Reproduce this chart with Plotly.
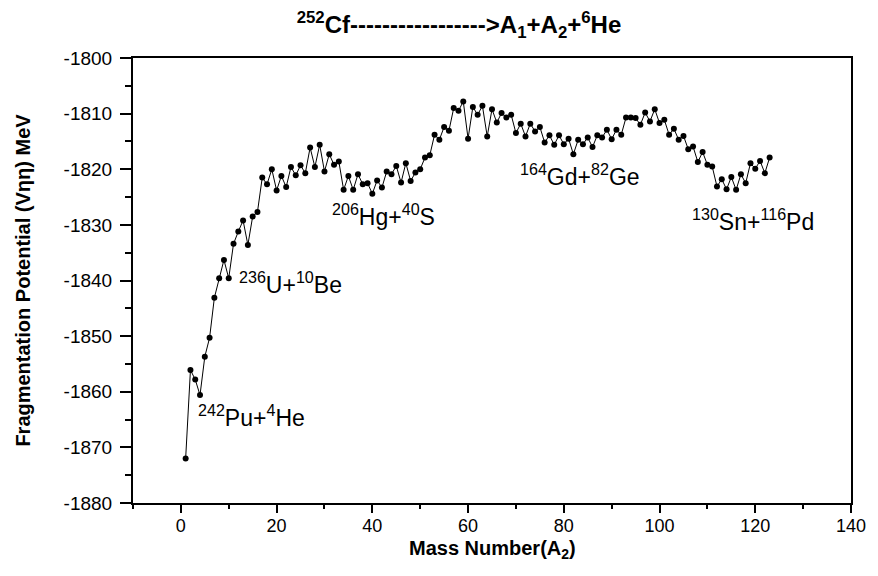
import plotly.graph_objects as go

# Mass number of the lighter fragment A2
mass_number = list(range(1, 124))

# Fragmentation potential (MeV)
potential = [
    -1872.0, -1856.1, -1857.8, -1860.6, -1853.7, -1850.3, -1843.1, -1839.6, -1836.3, -1839.6,
    -1833.4, -1831.2, -1829.2, -1833.6, -1828.5, -1827.7, -1821.5, -1822.7, -1820.0, -1823.8,
    -1821.2, -1823.2, -1819.6, -1821.1, -1819.3, -1820.7, -1816.1, -1819.6, -1815.6, -1820.4,
    -1817.3, -1819.2, -1818.6, -1823.7, -1821.2, -1823.7, -1820.9, -1822.7, -1822.5, -1824.4,
    -1822.0, -1823.3, -1820.4, -1820.9, -1819.4, -1822.4, -1818.9, -1822.1, -1820.6, -1820.0,
    -1817.9, -1817.5, -1813.8, -1814.7, -1812.4, -1813.1, -1809.0, -1809.5, -1807.8, -1814.5,
    -1808.8, -1810.2, -1808.6, -1814.1, -1809.2, -1811.6, -1809.9, -1810.7, -1810.2, -1813.5,
    -1811.8, -1814.1, -1811.8, -1813.2, -1812.4, -1815.2, -1813.9, -1815.6, -1813.9, -1815.5,
    -1814.5, -1817.3, -1814.7, -1815.5, -1814.3, -1816.0, -1813.9, -1814.3, -1812.9, -1814.6,
    -1812.9, -1813.8, -1810.7, -1810.7, -1810.8, -1812.0, -1809.8, -1811.4, -1809.2, -1811.7,
    -1811.1, -1813.8, -1812.7, -1814.7, -1814.0, -1816.4, -1815.9, -1818.7, -1816.9, -1819.2,
    -1819.5, -1823.1, -1821.8, -1823.6, -1821.4, -1823.7, -1820.9, -1822.5, -1818.9, -1819.9,
    -1818.5, -1820.7, -1817.9,
]

# Axis tick values and labels (hyphen minus as in the reference)
y_tick_values = [-1880, -1870, -1860, -1850, -1840, -1830, -1820, -1810, -1800]
y_tick_labels = ["-1880", "-1870", "-1860", "-1850", "-1840", "-1830", "-1820", "-1810", "-1800"]
x_tick_values = [0, 20, 40, 60, 80, 100, 120, 140]
x_tick_labels = ["0", "20", "40", "60", "80", "100", "120", "140"]

# Labelled fragmentation channels
channel_labels = [
    "<sup>242</sup>Pu+<sup>4</sup>He",
    "<sup>236</sup>U+<sup>10</sup>Be",
    "<sup>206</sup>Hg+<sup>40</sup>S",
    "<sup>164</sup>Gd+<sup>82</sup>Ge",
    "<sup>130</sup>Sn+<sup>116</sup>Pd",
]
label_x = [14.8, 23.0, 42.4, 83.4, 119.6]
label_y = [-1864.4, -1840.4, -1828.2, -1821.0, -1829.1]

FONT = "Liberation Sans, Arial, Helvetica, sans-serif"

fig = go.Figure()
fig.add_trace(go.Scatter(
    x=mass_number, y=potential, mode="lines+markers",
    line=dict(color="black", width=1),
    marker=dict(color="black", size=6),
    showlegend=False,
))

for t, x, y in zip(channel_labels, label_x, label_y):
    fig.add_annotation(x=x, y=y, text=t, showarrow=False, xanchor="center", yanchor="middle",
                       font=dict(family=FONT, size=23, color="black"))

# x-axis title placed as paper annotation to match reference spacing
fig.add_annotation(x=0.5, y=-0.104, xref="paper", yref="paper",
                   text="<b>Mass Number(A<sub>2</sub>)</b>", showarrow=False,
                   xanchor="center", yanchor="middle", borderpad=0,
                   font=dict(family=FONT, size=20, color="black"))

fig.update_layout(
    width=878, height=576,
    margin=dict(l=133, r=23, t=58, b=73),
    paper_bgcolor="white", plot_bgcolor="white",
    font=dict(family=FONT, color="black"),
    title=dict(
        text="<b><sup>252</sup>Cf----------------->A<sub>1</sub>+A<sub>2</sub>+<sup>6</sup>He</b>",
        x=0.454, xanchor="center", xref="paper", y=0.958, yanchor="middle",
        font=dict(family=FONT, size=24, color="black"),
    ),
)

fig.update_xaxes(
    range=[-10, 140], tickmode="array", tickvals=x_tick_values, ticktext=x_tick_labels,
    ticks="outside", ticklen=8, tickwidth=1.5, tickcolor="black",
    minor=dict(tickmode="linear", tick0=0, dtick=10, ticks="outside", ticklen=4,
               tickwidth=1.5, tickcolor="black"),
    showline=True, linewidth=2, linecolor="black", mirror=True,
    showgrid=False, zeroline=False,
    ticklabelstandoff=-3,
    tickfont=dict(family=FONT, size=18, color="black"),
)
fig.update_yaxes(
    range=[-1880, -1800], tickmode="array", tickvals=y_tick_values, ticktext=y_tick_labels,
    ticks="outside", ticklen=11, tickwidth=1.5, tickcolor="black",
    minor=dict(tickmode="linear", tick0=-1880, dtick=5, ticks="outside", ticklen=6,
               tickwidth=1.5, tickcolor="black"),
    showline=True, linewidth=2, linecolor="black", mirror=True,
    showgrid=False, zeroline=False,
    tickfont=dict(family=FONT, size=19, color="black"),
    ticklabelstandoff=4,
    title=dict(text="<b>Fragmentation Potential (V\u03b7\u03b7) MeV</b>", standoff=28,
               font=dict(family=FONT, size=20, color="black")),
)

fig.write_html("out.html")
